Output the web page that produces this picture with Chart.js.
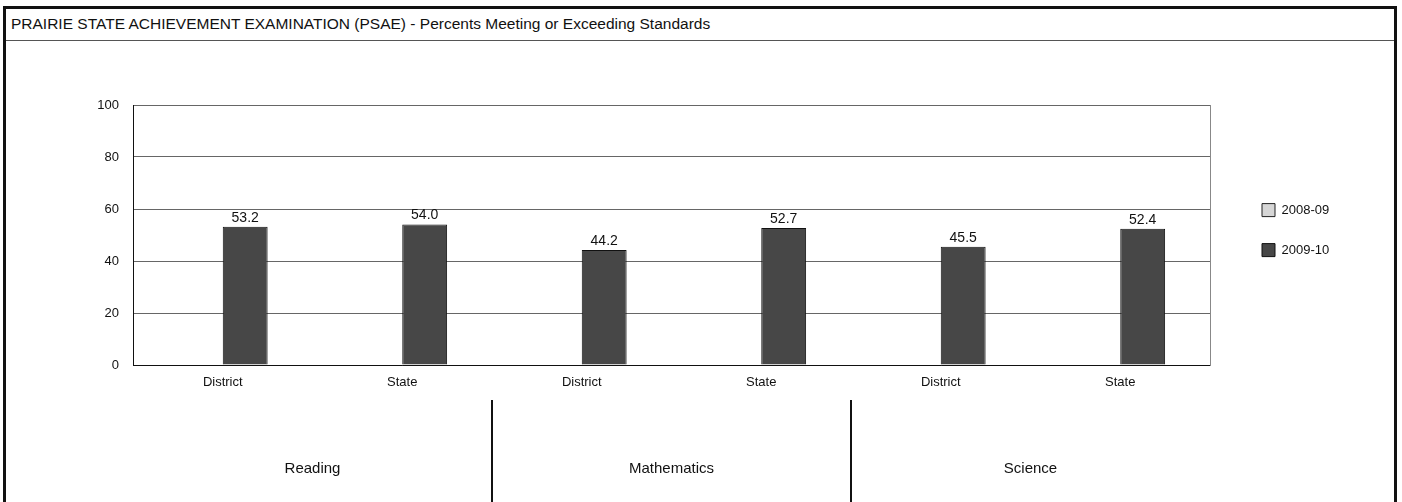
<!DOCTYPE html>
<html>
<head>
<meta charset="utf-8">
<script src="https://cdn.jsdelivr.net/npm/chart.js@4"></script>
<style>
  html, body { margin: 0; padding: 0; background: #fff; }
  body { width: 1402px; height: 502px; overflow: hidden; position: relative; }
  .frame {
    position: absolute; left: 3px; top: 6px; width: 1388px; height: 520px;
    border: 3px solid #111; border-bottom: none;
  }
  .title {
    position: absolute; left: 0; top: 0; width: 100%; height: 32px;
    border-bottom: 1px solid #555;
    font-family: 'Liberation Sans', Arial, sans-serif; font-size: 15.5px; color: #111;
    line-height: 30px; padding-left: 5px; box-sizing: border-box;
  }
  #wrap { position: absolute; left: 6px; top: 41px; width: 1385px; height: 461px; }
</style>
</head>
<body>
<div class="frame">
  <div class="title">PRAIRIE STATE ACHIEVEMENT EXAMINATION (PSAE) - Percents Meeting or Exceeding Standards</div>
</div>
<div id="wrap"><canvas id="myChart"></canvas></div>
<script>
/** Chart data **/
const subjects = ["Reading", "Mathematics", "Science"];
const categories = ["District", "State", "District", "State", "District", "State"];
const years = ["2008-09", "2009-10"];
const values0809 = [null, null, null, null, null, null];
const values0910 = [53.2, 54.0, 44.2, 52.7, 45.5, 52.4];
const yTicks = [0, 20, 40, 60, 80, 100];

Chart.defaults.font.family = "'Liberation Sans', Arial, sans-serif";
Chart.defaults.font.size = 13;
Chart.defaults.color = "#111";

//  Values printed above each bar
const barLabels = {
  id: "barLabels",
  afterDatasetsDraw(chart) {
    const ctx = chart.ctx;
    ctx.save();
    ctx.font = "14px 'Liberation Sans', Arial, sans-serif";
    ctx.fillStyle = "#111";
    ctx.textAlign = "center";
    ctx.textBaseline = "bottom";
    chart.data.datasets.forEach((ds, i) => {
      chart.getDatasetMeta(i).data.forEach((bar, j) => {
        if (ds.data[j] == null) return;
        ctx.fillText(ds.data[j].toFixed(1), bar.x, bar.y - 2);
      });
    });
    ctx.restore();
  },
};

//  Subject names under the categories and the lines between them
const subjectGroups = {
  id: "subjectGroups",
  afterDraw(chart) {
    const ctx = chart.ctx;
    const x = chart.scales.x;
    const bottom = chart.chartArea.bottom;
    ctx.save();
    ctx.font = "15px 'Liberation Sans', Arial, sans-serif";
    ctx.fillStyle = "#111";
    ctx.textAlign = "center";
    ctx.textBaseline = "middle";
    subjects.forEach((s, g) => {
      const cx = (x.getPixelForTick(g * 2) + x.getPixelForTick(g * 2 + 1)) / 2;
      ctx.fillText(s, cx, bottom + 104);
      if (g < subjects.length - 1) {
        const sx = Math.round((x.getPixelForTick(g * 2 + 1) + x.getPixelForTick(g * 2 + 2)) / 2);
        ctx.strokeStyle = "#111";
        ctx.lineWidth = 2;
        ctx.beginPath();
        ctx.moveTo(sx, bottom + 35);
        ctx.lineTo(sx, chart.height);
        ctx.stroke();
      }
    });
    ctx.restore();
  },
};

const ctx = document.getElementById("myChart");

let myChart = new Chart(ctx, {
  type: "bar",
  data: {
    labels: categories,
    datasets: [
      {
        label: years[0],
        data: values0809,
        backgroundColor: "#d6d6d6",
        borderColor: "#222",
        borderWidth: 1,
      },
      {
        label: years[1],
        data: values0910,
        backgroundColor: "#474747",
        borderColor: "#111",
        borderWidth: 1,
      },
    ],
  },
  options: {
    responsive: true,
    maintainAspectRatio: false,
    animation: false,
    layout: { padding: { left: 87, top: 64, right: 56, bottom: 0 } },
    categoryPercentage: 0.5,
    barPercentage: 1.0,
    plugins: {
      tooltip: { enabled: false },
      legend: {
        position: "right",
        align: "start",
        maxWidth: 100,
        title: { display: true, text: " ", font: { size: 13 }, padding: { top: 0, bottom: 56 } },
        labels: {
          boxWidth: 13,
          boxHeight: 13,
          padding: 27,
          color: "#111",
          font: { size: 13 },
        },
      },
    },
    scales: {
      x: {
        grid: { display: false },
        border: { display: true, color: "#111", width: 1 },
        ticks: { padding: 2, font: { size: 13 } },
        afterFit(s) { s.height = 137; },
      },
      y: {
        min: 0,
        max: 100,
        afterBuildTicks(s) { s.ticks = yTicks.map((v) => ({ value: v })); },
        grid: { color: "#666", drawTicks: false },
        border: { display: true, color: "#111", width: 1 },
        ticks: { padding: 14, font: { size: 13 } },
        afterFit(s) { s.width = 40; },
      },
      y1: {
        position: "right",
        grid: { display: false, drawTicks: false },
        border: { display: true, color: "#888", dash: [4, 2] },
        ticks: { display: false },
        afterFit(s) { s.width = 25; },
      },
    },
  },
  plugins: [barLabels, subjectGroups],
});
</script>
</body>
</html>
